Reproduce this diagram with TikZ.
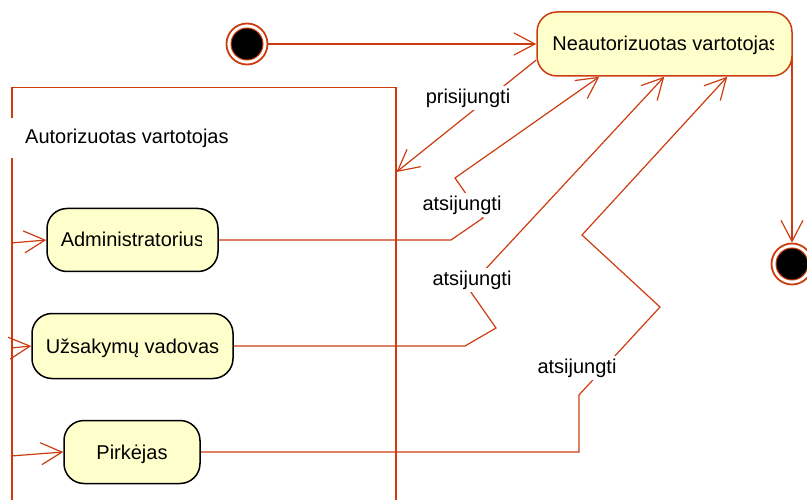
\documentclass[tikz,border=0pt]{standalone}
\usepackage{fontspec}
\setmainfont{Liberation Sans}
\usetikzlibrary{arrows.meta}

\definecolor{umlred}{RGB}{204,60,16}
\definecolor{statefill}{RGB}{255,255,204}

\begin{document}
\begin{tikzpicture}[x=1pt,y=-1pt,
  font=\fontsize{20}{24}\selectfont,
  trans/.style={draw=umlred, line width=1.2pt,
    -{Straight Barb[length=21pt,width=22pt,line width=1.2pt]}},
  lbl/.style={fill=white, inner sep=3pt},
  statebox/.style={draw=black, fill=statefill, line width=1.5pt,
    rounded corners=20pt, inner sep=0pt, text height=14pt, text depth=0pt},
  topstate/.style={statebox, draw=umlred},
  % text set from the left edge and cut off before the right edge
  cliptext/.style n args={3}{path picture={
    \clip (path picture bounding box.north west) rectangle
          ([xshift=-#2]path picture bounding box.south east);
    \node[anchor=base west, inner sep=0pt, draw=none, fill=none,
          minimum width=0pt, minimum height=0pt,
          font=\fontsize{20}{24}\selectfont]
      at ([xshift=#1,yshift=-7pt]path picture bounding box.west) {#3};
  }},
  pseudo/.style={circle, draw=umlred, line width=1.8pt, fill=white,
    minimum size=41pt, inner sep=0pt,
    path picture={
      \fill[black] (path picture bounding box.center) circle (16pt);
      \draw[umlred, line width=1pt] (path picture bounding box.center) circle (16pt);
    }},
]
\clip (0,0) rectangle (807,500);

% composite state
\node[draw=umlred, line width=1.5pt, minimum width=384pt, minimum height=440pt,
      anchor=north west, inner sep=0pt] (auth) at (11,87) {};
\node[fill=white, anchor=west, inner xsep=16pt, inner ysep=0pt,
      minimum height=40pt] (authtitle) at (9,138) {Autorizuotas vartotojas};

% states
\node[topstate, minimum width=255pt, minimum height=64pt,
      cliptext={14.7pt}{18.5pt}{Neautorizuotas vartotojas}] (neaut) at (664.5,44) {};
\node[statebox, minimum width=171pt, minimum height=63pt,
      cliptext={13pt}{17pt}{Administratorius}] (admin) at (132.5,240) {};
\node[statebox, minimum width=201pt, minimum height=65pt] (uzs) at (132.5,346) {Užsakymų vadovas};
\node[statebox, minimum width=136pt, minimum height=63pt] (pirk) at (132,452) {Pirkėjas};

% pseudostates
\node[pseudo] (init) at (247,44) {};
\node[pseudo] (final) at (792,264) {};

% entry points on the composite border
\coordinate (inA) at (11,243);
\coordinate (inU) at (11,348);
\coordinate (inP) at (11,456);
\coordinate (outF) at ([yshift=-12pt]neaut.east);

% transitions
\draw[trans] (init) -- (neaut.west);
\draw[trans] ([yshift=-16pt]neaut.west) -- ([yshift=-85pt]auth.north east);
\draw[trans] (outF -| final.north) -- (final.north);

\draw[trans] (admin.east) -- (451,240) -- (483,218) -- (455,178)
  -- ([xshift=63pt]neaut.south west);
\draw[trans] (uzs.east) -- (465,346) -- (496,328) -- (468,288)
  -- ([xshift=128pt]neaut.south west);
\draw[trans] (pirk.east) -- (579,452) -- (579,395) -- (660,307) -- (582,235)
  -- ([xshift=191pt]neaut.south west);

\draw[trans] (inA) -- (admin.west);
\draw[trans] (inU) -- (uzs.west);
\draw[trans] (inP) -- (pirk.west);

% transition labels
\node[lbl] (lprisi) at (468,98) {prisijungti};
\node[lbl] (lats1) at (462,205) {atsijungti};
\node[lbl] (lats2) at (472,280) {atsijungti};
\node[lbl] (lats3) at (577,368) {atsijungti};
\end{tikzpicture}
\end{document}
